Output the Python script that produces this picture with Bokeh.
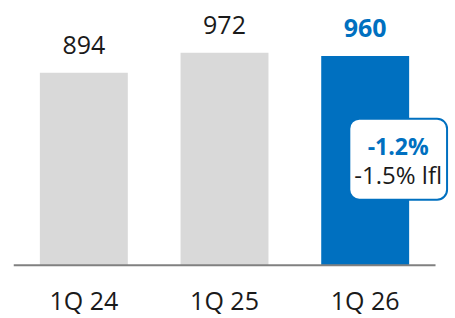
from bokeh.plotting import figure
from bokeh.models import ColumnDataSource, Range1d, Label
from bokeh.core.properties import value
from bokeh.embed import file_html
from bokeh.resources import INLINE

quarters = ["1Q 24", "1Q 25", "1Q 26"]
revenue = [894, 972, 960]
bar_colors = ["#D9D9D9", "#D9D9D9", "#0070C0"]
label_colors = ["#1A1A1A", "#1A1A1A", "#0070C0"]
label_styles = ["normal", "normal", "bold"]
change_reported = "-1.2%"
change_lfl = "-1.5% lfl"

FONT = "Open Sans"
BLUE = "#0070C0"
Y0 = 144                     # value at the baseline of the bars
YR = (-64, 1176)             # visible value range of the frame

xs = list(range(len(quarters)))
src = ColumnDataSource(dict(
    x=xs, q=quarters, v=revenue, c=bar_colors,
    t=[str(x) for x in revenue], tc=label_colors, ts=label_styles,
))

p = figure(width=455, height=318, output_backend="svg", toolbar_location=None,
           x_range=Range1d(-0.5, len(quarters) - 0.5 + 0.142),
           y_range=Range1d(*YR), x_axis_location=None, y_axis_location=None,
           min_border_left=13, min_border_right=0, min_border_top=0, min_border_bottom=0)
p.outline_line_color = None
p.grid.visible = False
p.background_fill_color = "white"
p.border_fill_color = "white"

# bars
p.vbar(x="x", top="v", bottom=Y0, width=0.625, fill_color="c", line_color=None, source=src)
# baseline
p.segment(x0=[-0.5], y0=[Y0], x1=[len(quarters) - 0.5], y1=[Y0],
          line_color="#808080", line_width=2)
# value labels
p.text(x="x", y="v", text="t", text_color="tc", text_font_style="ts",
       text_font=value(FONT), text_font_size="25px", text_align="center",
       text_baseline="middle", y_offset=-28, source=src)
# category labels
p.text(x="x", y=Y0, text="q", text_color="#1A1A1A",
       text_font=value(FONT), text_font_size="25px", text_align="center",
       text_baseline="bottom", y_offset=52, source=src)

cx = quarters.index("1Q 26")
pad = dict(left=5, right=5, top=39, bottom=9)
shadow = Label(x=cx, y=Y0, x_offset=36, y_offset=103, text=change_lfl,
               text_font=FONT, text_font_size="24px", text_align="center",
               text_baseline="middle", text_alpha=0,
               background_fill_color="#444444", background_fill_alpha=0.4,
               border_radius=10, padding=pad)
box = Label(x=cx, y=Y0, x_offset=33, y_offset=106, text=change_lfl,
            text_font=FONT, text_font_size="24px", text_color="#1A1A1A",
            text_align="center", text_baseline="middle",
            background_fill_color="white", border_line_color=BLUE,
            border_line_width=2, border_radius=10, padding=pad)
top = Label(x=cx, y=Y0, x_offset=33, y_offset=119, text=change_reported,
            text_font=FONT, text_font_size="23px", text_font_style="bold",
            text_color=BLUE, text_align="center", text_baseline="middle")
p.add_layout(shadow)
p.add_layout(box)
p.add_layout(top)

open("out.html", "w").write(file_html(p, INLINE))
